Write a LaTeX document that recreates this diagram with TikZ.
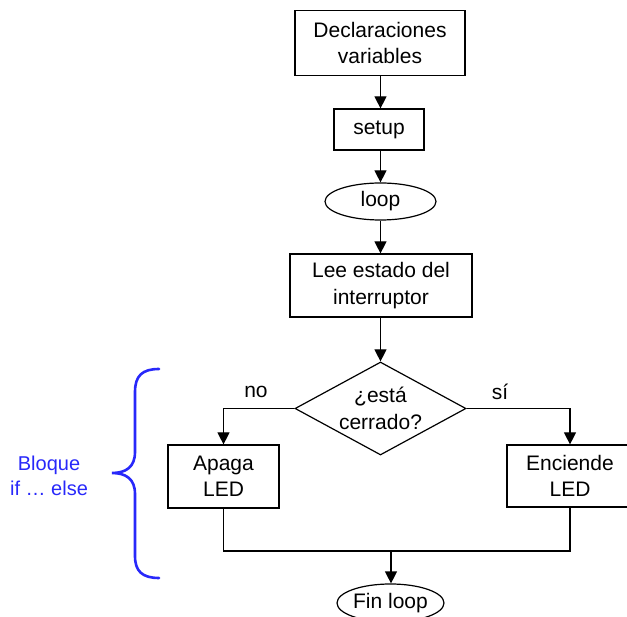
\documentclass[tikz,border=0pt]{standalone}
\usepackage{fontspec}
\setmainfont{Liberation Sans}
\usetikzlibrary{shapes.geometric,arrows.meta}
\definecolor{bracblue}{RGB}{40,40,250}
\begin{document}
\begin{tikzpicture}[x=1pt,y=-1pt,
  every node/.style={font=\fontsize{21}{26.5}\selectfont, align=center, inner sep=0pt},
  box/.style={draw, line width=1.2pt, rectangle},
  oval/.style={draw, line width=1.2pt, ellipse},
  decision/.style={draw, line width=1.2pt, diamond},
  conn/.style={line width=1.2pt, -{Triangle[length=12pt,width=12pt]}},
  plain/.style={line width=1.2pt},
  brace/.style={line width=2.6pt, bracblue, line cap=round}
]
\useasboundingbox (0,0) rectangle (627,617);
\clip (0,0) rectangle (627,617);

\node[box, minimum width=170, minimum height=65] (decl) at (380,43) {Declaraciones\\variables};
\node[box, minimum width=90, minimum height=41] (setup) at (379,129.5) {setup};
\node[oval, minimum width=111, minimum height=37] (loop) at (380.5,201.5) {loop};
\node[box, minimum width=182, minimum height=63] (lee) at (381,285.5) {Lee estado del\\interruptor};
\node[decision, minimum width=171, minimum height=93] (dec) at (380.5,408.5) {};
\node (dectext) at (dec.center) {¿está\\cerrado?};
\node[box, minimum width=111, minimum height=63] (apaga) at (223.5,476.5) {Apaga\\LED};
\node[box, minimum width=126, minimum height=62] (enc) at (570,476) {Enciende\\LED};
\node[oval, minimum width=107, minimum height=38] (fin) at (390.5,603) {Fin loop};

\node (no) at (256,392) {no};
\node (si) at (500,392) {sí};
\node[text=bracblue, font=\fontsize{20}{25}\selectfont] (bloque) at (49,476) {Bloque\\if … else};

\coordinate (j) at (391,551);

\draw[conn] (decl.south -| loop) -- (setup.north -| loop);
\draw[conn] (setup.south -| loop) -- (loop.north);
\draw[conn] (loop.south) -- (lee.north -| loop);
\draw[conn] (lee.south -| dec) -- (dec.north);
\draw[conn] (dec.west) -| (apaga.north);
\draw[conn] (dec.east) -| (enc.north);
\draw[plain] (apaga.south) |- (j) -| (enc.south);
\draw[conn] (j) -- (fin.north -| j);

\draw[brace] (159,369) .. controls (142,369) and (135,376) .. (135,392)
  -- (135,452) .. controls (135,467) and (126,473) .. (112,473)
  .. controls (126,473) and (135,479) .. (135,494)
  -- (135,556) .. controls (135,571) and (142,578) .. (159,578);
\end{tikzpicture}
\end{document}
